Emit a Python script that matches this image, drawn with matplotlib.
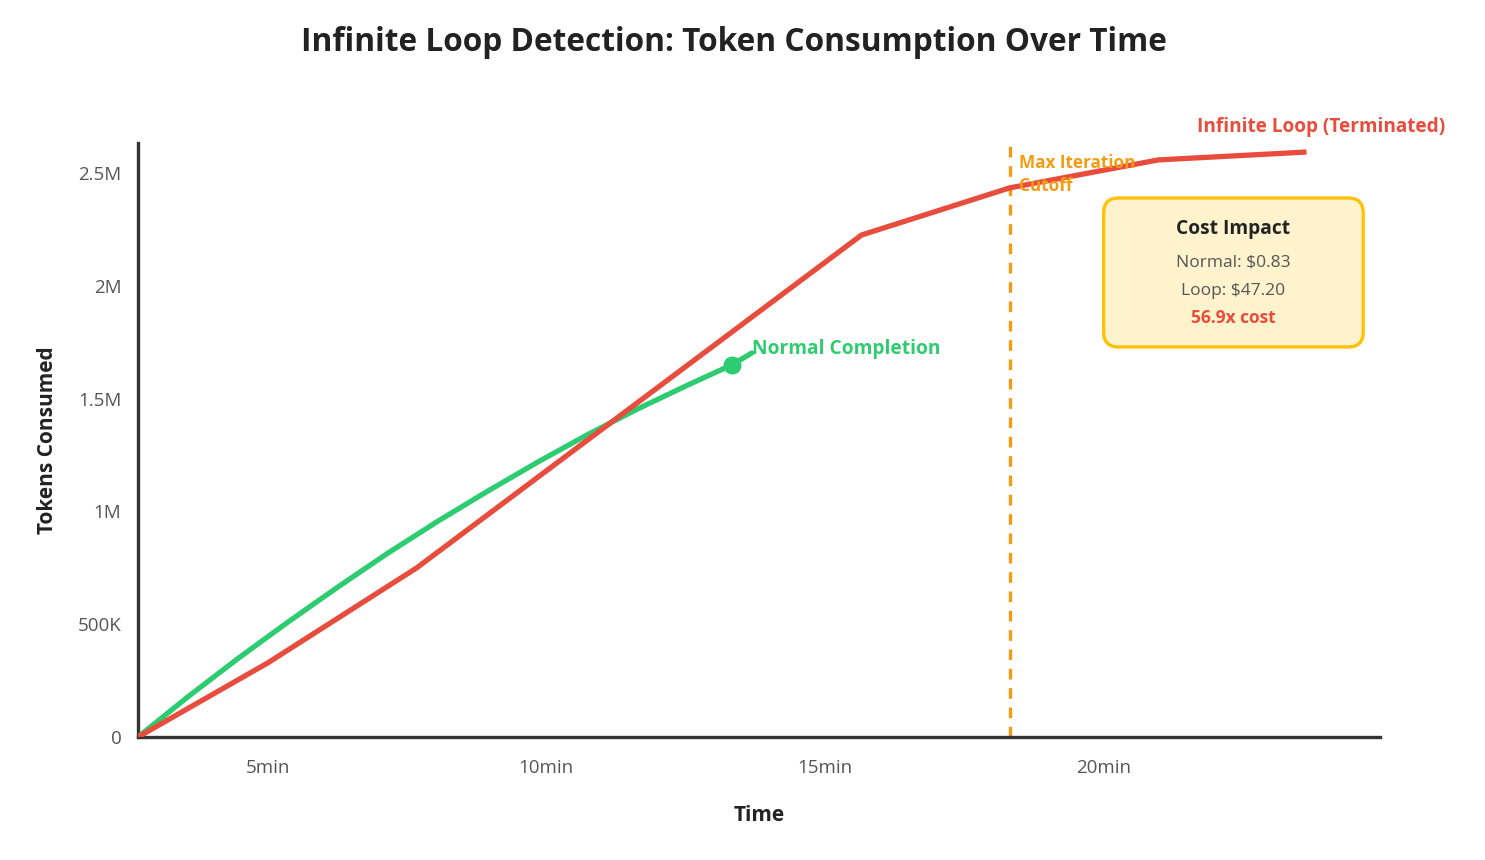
import matplotlib.pyplot as plt
import matplotlib.transforms as mtransforms
from matplotlib.patches import FancyBboxPatch
from matplotlib.ticker import FuncFormatter

plt.rcParams['font.family'] = ['Open Sans', 'DejaVu Sans']

# data (time in minutes, tokens)
loop_time = [2.67, 5.0, 7.67, 15.66, 18.32, 20.99, 23.65]
loop_tokens = [0, 328500, 749000, 2225000, 2434000, 2558000, 2593000]

normal_time = [2.67, 3.56, 4.46, 5.36, 6.26, 7.15, 8.05, 8.95, 9.85, 10.74, 11.64, 12.54, 13.33, 13.69]
normal_tokens = [0, 177000, 347000, 509000, 665000, 814000, 956000, 1090000, 1219000,
                 1340000, 1454000, 1560000, 1649000, 1702000]
normal_end = (13.33, 1649000)

cutoff_time = 18.32
x_ticks = [5, 10, 15, 20]
x_tick_labels = ['5min', '10min', '15min', '20min']
y_ticks = [0, 500000, 1000000, 1500000, 2000000, 2500000]

RED = '#e74c3c'
GREEN = '#2ecc71'
ORANGE = '#f39c12'
DARK = '#222222'
GRAY = '#555555'


def fmt_tokens(v, pos=None):
    if v >= 1e6:
        s = f'{v / 1e6:.1f}'.rstrip('0').rstrip('.')
        return s + 'M'
    if v >= 1e3:
        return f'{v / 1e3:.0f}K'
    return '0'


fig = plt.figure(figsize=(14.85, 8.6), dpi=100)
ax = fig.add_axes([138 / 1485, 1 - 737 / 860, 1242 / 1485, 594 / 860])

ax.plot(normal_time, normal_tokens, color=GREEN, lw=3.8, solid_capstyle='round',
        solid_joinstyle='round', zorder=3)
ax.plot(loop_time, loop_tokens, color=RED, lw=3.8, solid_capstyle='butt', zorder=4)
ax.plot(*normal_end, 'o', color=GREEN, ms=12, zorder=5)
ax.axvline(cutoff_time, color=ORANGE, lw=2.4, dashes=(3.2, 2.6), zorder=2)

ax.set_xlim(2.67, 24.97)
ax.set_ylim(0, 2.633e6)
ax.set_xticks(x_ticks)
ax.set_xticklabels(x_tick_labels)
ax.set_yticks(y_ticks)
ax.yaxis.set_major_formatter(FuncFormatter(fmt_tokens))
ax.tick_params(length=0, labelsize=13.5, labelcolor=GRAY)
ax.tick_params(axis='y', pad=12)
ax.tick_params(axis='x', pad=16)

for side in ['top', 'right']:
    ax.spines[side].set_visible(False)
for side in ['left', 'bottom']:
    ax.spines[side].set_color('#333333')
    ax.spines[side].set_linewidth(2.4)

ax.set_xlabel('Time', fontsize=15, fontweight='bold', color=DARK, labelpad=20)
ax.set_ylabel('Tokens Consumed', fontsize=15, fontweight='bold', color=DARK, labelpad=14)

fig.suptitle('Infinite Loop Detection: Token Consumption Over Time', x=0.494, y=0.97,
             fontsize=22.8, fontweight='bold', color=DARK)

# line labels
ax.annotate('Normal Completion', xy=(normal_time[-1], normal_tokens[-1]), xytext=(0, 3),
            textcoords='offset points', ha='left', va='center',
            fontsize=13.8, fontweight='bold', color=GREEN, zorder=6)
ax.annotate('Infinite Loop (Terminated)', xy=(loop_time[-1], loop_tokens[-1]), xytext=(-79, 18),
            textcoords='offset points', ha='left', va='center',
            fontsize=13.7, fontweight='bold', color=RED, zorder=6)

trans = mtransforms.blended_transform_factory(ax.transData, ax.transAxes)
shift = mtransforms.ScaledTranslation(7 / 72, 0, fig.dpi_scale_trans)
ax.text(cutoff_time, 0.947, 'Max Iteration\nCutoff', transform=trans + shift, ha='left', va='center',
        fontsize=12.3, fontweight='bold', color=ORANGE, linespacing=1.35, zorder=6)

# cost box
box = FancyBboxPatch((0.7775, 0.6566), 0.209, 0.2508, transform=ax.transAxes,
                     boxstyle='round,pad=0,rounding_size=0.012', mutation_aspect=1242 / 594,
                     facecolor='#fff3cd', edgecolor='#ffc107', lw=2.4, zorder=6, clip_on=False)
ax.add_patch(box)
cx = 0.8818
ax.text(cx, 0.856, 'Cost Impact', transform=ax.transAxes, ha='center', va='center',
        fontsize=13.8, fontweight='bold', color=DARK, zorder=7)
ax.text(cx, 0.798, 'Normal: $0.83', transform=ax.transAxes, ha='center', va='center',
        fontsize=12.5, color=GRAY, zorder=7)
ax.text(cx, 0.751, 'Loop: $47.20', transform=ax.transAxes, ha='center', va='center',
        fontsize=12.5, color=GRAY, zorder=7)
ax.text(cx, 0.705, '56.9x cost', transform=ax.transAxes, ha='center', va='center',
        fontsize=12.5, fontweight='bold', color=RED, zorder=7)

fig.savefig('out.png', dpi=100, facecolor='white')
